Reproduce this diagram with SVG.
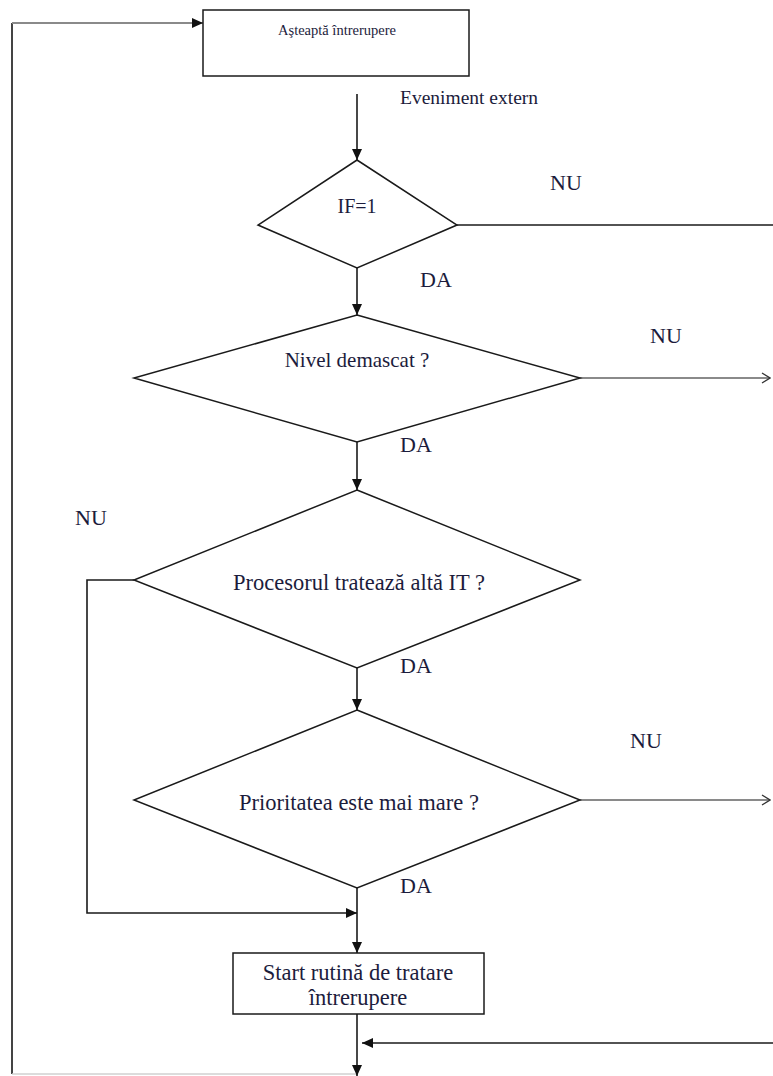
<svg xmlns="http://www.w3.org/2000/svg" width="773" height="1076" viewBox="0 0 773 1076">
<style>
.shape{fill:#fff;stroke:#1a1a1a;stroke-width:1.5}
.t{font-family:"Liberation Serif","Times New Roman",serif;fill:#1c1c3c;text-anchor:middle}
.lbl{font-family:"Liberation Serif","Times New Roman",serif;fill:#1c1c3c;font-size:22px}
.c{fill:none;stroke:#1a1a1a;stroke-width:1.6}
.g{fill:none;stroke:#8a8a8a;stroke-width:2}
</style>
<defs>
<marker id="a" markerUnits="userSpaceOnUse" markerWidth="12" markerHeight="10" refX="11" refY="5" orient="auto">
<path d="M0,0 L11,5 L0,10 Z" fill="#111"/>
</marker>
<marker id="o" markerUnits="userSpaceOnUse" markerWidth="10" markerHeight="12" refX="9" refY="6" orient="auto">
<path d="M1,1 L9,6 L1,11" fill="none" stroke="#333" stroke-width="1.3"/>
</marker>
</defs>
<g id="connectors">
<line x1="12" y1="1074" x2="12" y2="23" stroke="#444" stroke-width="2"/>
<line x1="12" y1="23" x2="203" y2="23" class="g" marker-end="url(#a)"/>
<line x1="12" y1="1074" x2="357" y2="1074" stroke="#d0d0d0" stroke-width="1.5"/>
<line x1="357" y1="94" x2="357" y2="160" class="c" marker-end="url(#a)"/>
<line x1="457" y1="225" x2="773" y2="225" class="c"/>
<line x1="357" y1="268" x2="357" y2="315" class="c" marker-end="url(#a)"/>
<line x1="580" y1="378" x2="770" y2="378" class="g" marker-end="url(#o)"/>
<line x1="357" y1="442" x2="357" y2="490" class="c" marker-end="url(#a)"/>
<polyline points="134,580 87,580 87,913 357,913" class="c" marker-end="url(#a)"/>
<line x1="357" y1="668" x2="357" y2="710" class="c" marker-end="url(#a)"/>
<line x1="580" y1="800" x2="770" y2="800" class="g" marker-end="url(#o)"/>
<line x1="357" y1="888" x2="357" y2="953" class="c" marker-end="url(#a)"/>
<line x1="357" y1="1014" x2="357" y2="1076" class="c" marker-end="url(#a)"/>
<line x1="773" y1="1043" x2="362" y2="1043" class="c" marker-end="url(#a)"/>
</g>
<g id="wait">
<rect x="203" y="10" width="266" height="66" class="shape"/>
<text x="337" y="35" class="t" font-size="14.5">Aşteaptă întrerupere</text>
</g>
<g id="event-label"><text x="400" y="104" class="lbl" style="font-size:19.5px">Eveniment extern</text></g>
<g id="if1">
<polygon points="357,160 457,225 357,268 258,225" class="shape"/>
<text x="357" y="213" class="t" font-size="20">IF=1</text>
</g>
<g id="nivel">
<polygon points="357,315 580,378 357,442 134,378" class="shape"/>
<text x="357" y="367" class="t" font-size="21">Nivel demascat ?</text>
</g>
<g id="procesor">
<polygon points="357,490 580,580 357,668 134,580" class="shape"/>
<text x="359" y="590" class="t" font-size="22.5">Procesorul tratează altă IT ?</text>
</g>
<g id="prioritate">
<polygon points="357,710 580,800 357,888 134,800" class="shape"/>
<text x="359" y="810" class="t" font-size="22.5">Prioritatea este mai mare ?</text>
</g>
<g id="start">
<rect x="233" y="953" width="251" height="61" class="shape"/>
<text x="358" y="980" class="t" font-size="22.5">Start rutină de tratare</text>
<text x="358" y="1005" class="t" font-size="22.5">întrerupere</text>
</g>
<g id="labels">
<text x="550" y="190" class="lbl">NU</text>
<text x="420" y="287" class="lbl">DA</text>
<text x="650" y="343" class="lbl">NU</text>
<text x="400" y="452" class="lbl">DA</text>
<text x="75" y="525" class="lbl">NU</text>
<text x="400" y="673" class="lbl">DA</text>
<text x="630" y="748" class="lbl">NU</text>
<text x="400" y="893" class="lbl">DA</text>
</g>
</svg>
